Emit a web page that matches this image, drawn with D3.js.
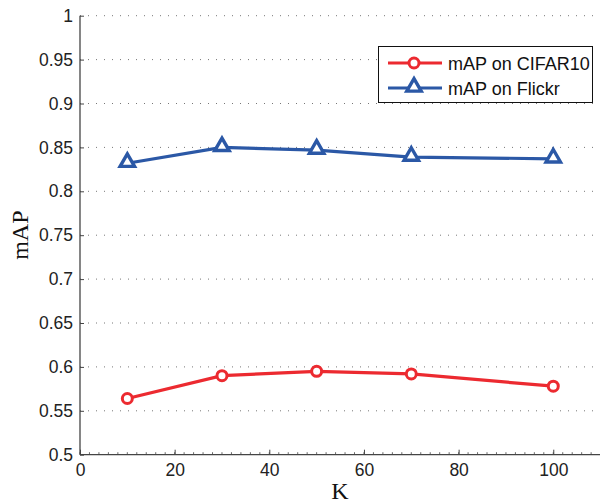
<!DOCTYPE html>
<html>
<head>
<meta charset="utf-8">
<script src="https://cdn.jsdelivr.net/npm/d3@7"></script>
<style>
  body { margin: 0; background: #fff; }
  svg { display: block; }
</style>
</head>
<body>
<script>
const kValues = [10, 30, 50, 70, 100];
const cifarMap = [0.564, 0.590, 0.595, 0.592, 0.578];
const flickrMap = [0.832, 0.850, 0.847, 0.839, 0.837];
const yTicks = [0.5, 0.55, 0.6, 0.65, 0.7, 0.75, 0.8, 0.85, 0.9, 0.95, 1];
const xTicks = [0, 20, 40, 60, 80, 100];
const seriesNames = ["mAP on CIFAR10", "mAP on Flickr"];

const width = 600, height = 503;
const margin = {left: 80, top: 15.7, right: 0, bottom: 48.3};

const svg = d3.select("body").append("svg").attr("width", width).attr("height", height);

const x = d3.scaleLinear().domain([0, 110]).range([margin.left, margin.left + 520.6]);
const y = d3.scaleLinear().domain([0.5, 1]).range([height - margin.bottom, margin.top]);

const axisColor = "#444";
const red = "#ec2a30", blue = "#2b58a6";

// dotted horizontal grid
svg.append("g").selectAll("line").data(yTicks.slice(1)).enter().append("line")
  .attr("x1", x(0)).attr("x2", width)
  .attr("y1", d => y(d)).attr("y2", d => y(d))
  .attr("stroke", "#777").attr("stroke-width", 1)
  .attr("stroke-dasharray", "1,7");

// y axis
const yAxis = d3.axisLeft(y).tickValues(yTicks).tickSize(-4).tickPadding(7)
  .tickFormat(d => d3.format("")(+d.toFixed(2)));
const gy = svg.append("g").attr("transform", `translate(${x(0)},0)`).call(yAxis);
gy.select(".domain").attr("stroke", axisColor).attr("stroke-width", 1.3).attr("d", `M0,${y(1)}V${y(0.5)}`);
gy.selectAll(".tick line").attr("stroke", axisColor);

// x axis with minor ticks
const minor = d3.range(0, 111, 2);
svg.append("g").selectAll("line").data(minor).enter().append("line")
  .attr("x1", d => x(d)).attr("x2", d => x(d))
  .attr("y1", y(0.5)).attr("y2", y(0.5) - 2.5)
  .attr("stroke", axisColor).attr("stroke-width", 0.8);
const xAxis = d3.axisBottom(x).tickValues(xTicks).tickSize(-5).tickPadding(9);
const gx = svg.append("g").attr("transform", `translate(0,${y(0.5)})`).call(xAxis);
gx.select(".domain").attr("stroke", axisColor).attr("stroke-width", 1.3).attr("d", `M${x(0)},0H${width}`);
gx.selectAll(".tick line").attr("stroke", axisColor);

svg.selectAll(".tick text").attr("font-family", "Liberation Sans, Arial, sans-serif")
  .attr("font-size", 17.5).attr("fill", "#222");

// axis labels
svg.append("text").attr("transform", `translate(28,${(y(0.5) + y(1)) / 2}) rotate(-90)`)
  .attr("text-anchor", "middle").attr("font-family", "Liberation Serif, Times New Roman, serif")
  .attr("font-size", 24).attr("fill", "#111").text("mAP");
svg.append("text").attr("x", 340).attr("y", 499)
  .attr("text-anchor", "middle").attr("font-family", "Liberation Serif, Times New Roman, serif")
  .attr("font-size", 24).attr("fill", "#111").text("K");

const line = d3.line().x(d => x(d[0])).y(d => y(d[1]));
const tri = d3.symbol().type(d3.symbolTriangle).size(90);

function drawSeries(vals, color, marker) {
  const pts = kValues.map((k, i) => [k, vals[i]]);
  svg.append("path").datum(pts).attr("d", line)
    .attr("fill", "none").attr("stroke", color).attr("stroke-width", 3.2);
  const g = svg.append("g");
  if (marker === "circle") {
    g.selectAll("circle").data(pts).enter().append("circle")
      .attr("cx", d => x(d[0])).attr("cy", d => y(d[1])).attr("r", 5)
      .attr("fill", "#fff").attr("stroke", color).attr("stroke-width", 3);
  } else {
    g.selectAll("path").data(pts).enter().append("path")
      .attr("d", tri).attr("transform", d => `translate(${x(d[0])},${y(d[1]) - 1})`)
      .attr("fill", "#fff").attr("stroke", color).attr("stroke-width", 3.4)
      .attr("stroke-linejoin", "miter");
  }
}
drawSeries(cifarMap, red, "circle");
drawSeries(flickrMap, blue, "triangle");

// legend
const lg = svg.append("g");
lg.append("rect").attr("x", 378.5).attr("y", 46.5).attr("width", 214).attr("height", 56)
  .attr("fill", "#fff").attr("stroke", "#111").attr("stroke-width", 1);
const colors = [red, blue];
seriesNames.forEach((name, i) => {
  const cy = 63 + i * 25;
  lg.append("line").attr("x1", 388).attr("x2", 442).attr("y1", cy).attr("y2", cy)
    .attr("stroke", colors[i]).attr("stroke-width", 3.2);
  if (i === 0) {
    lg.append("circle").attr("cx", 414).attr("cy", cy).attr("r", 5)
      .attr("fill", "#fff").attr("stroke", colors[i]).attr("stroke-width", 3);
  } else {
    lg.append("path").attr("d", tri).attr("transform", `translate(414,${cy - 1})`)
      .attr("fill", "#fff").attr("stroke", colors[i]).attr("stroke-width", 3.4);
  }
  lg.append("text").attr("x", 448).attr("y", cy + 6.5)
    .attr("font-family", "Liberation Sans, Arial, sans-serif").attr("font-size", 18)
    .attr("fill", "#111").text(name);
});
</script>
</body>
</html>
